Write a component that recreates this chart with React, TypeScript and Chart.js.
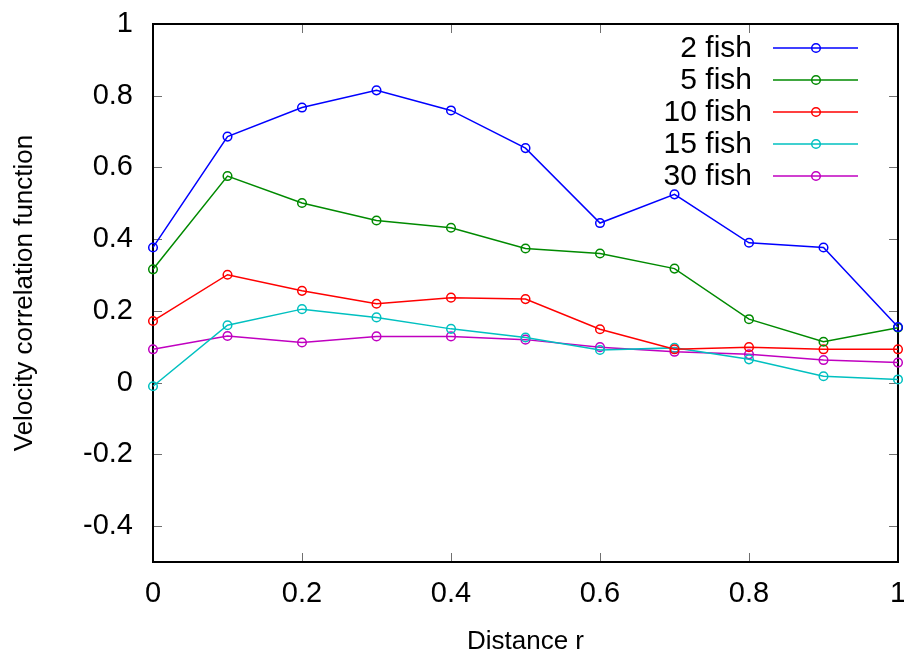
import React, { useEffect, useRef } from "react";
import { Chart, registerables } from "chart.js";

Chart.register(...registerables);

const distances = [0, 0.1, 0.2, 0.3, 0.4, 0.5, 0.6, 0.7, 0.8, 0.9, 1.0];
const fish2 = [0.377, 0.686, 0.767, 0.815, 0.759, 0.654, 0.445, 0.525, 0.39, 0.377, 0.155];
const fish5 = [0.316, 0.576, 0.501, 0.452, 0.432, 0.374, 0.36, 0.318, 0.177, 0.114, 0.153];
const fish10 = [0.172, 0.301, 0.256, 0.22, 0.237, 0.233, 0.149, 0.093, 0.099, 0.093, 0.093];
const fish15 = [-0.01, 0.16, 0.205, 0.182, 0.15, 0.126, 0.091, 0.097, 0.065, 0.018, 0.009];
const fish30 = [0.093, 0.13, 0.112, 0.129, 0.129, 0.12, 0.099, 0.086, 0.079, 0.063, 0.056];

const seriesNames = ["2 fish", "5 fish", "10 fish", "15 fish", "30 fish"];
const seriesValues = [fish2, fish5, fish10, fish15, fish30];
const seriesColors = ["#0000ff", "#008a00", "#ff0000", "#00c0c0", "#c000c0"];

const xTicks = [0, 0.2, 0.4, 0.6, 0.8, 1];
const yTicks = [-0.4, -0.2, 0, 0.2, 0.4, 0.6, 0.8, 1];

const xTitle = "Distance r";
const yTitle = "Velocity correlation function";

const FONT = "'Liberation Sans', Arial, Helvetica, sans-serif";

const fmt = (v: number) => String(Number(v.toFixed(1)));

const framePlugin = {
  id: "gnuplotFrame",
  beforeDatasetsDraw(chart: any) {
    const { ctx, chartArea } = chart;
    const { left, right, top, bottom } = chartArea;
    const xs = chart.scales.x;
    const ys = chart.scales.y;
    const tl = 9;
    ctx.save();
    ctx.strokeStyle = "#707070";
    ctx.lineWidth = 1;
    ctx.beginPath();
    xTicks.forEach((v) => {
      const px = Math.round(xs.getPixelForValue(v)) + 0.5;
      ctx.moveTo(px, bottom);
      ctx.lineTo(px, bottom - tl);
      ctx.moveTo(px, top);
      ctx.lineTo(px, top + tl);
    });
    yTicks.forEach((v) => {
      const py = Math.round(ys.getPixelForValue(v)) + 0.5;
      ctx.moveTo(left, py);
      ctx.lineTo(left + tl, py);
      ctx.moveTo(right, py);
      ctx.lineTo(right - tl, py);
    });
    ctx.stroke();
    ctx.strokeStyle = "#000000";
    ctx.lineWidth = 2;
    ctx.strokeRect(left, top, right - left, bottom - top);
    ctx.restore();
  },
};

const legendPlugin = {
  id: "gnuplotLegend",
  afterDatasetsDraw(chart: any) {
    const { ctx } = chart;
    ctx.save();
    ctx.font = `30px ${FONT}`;
    ctx.textAlign = "right";
    ctx.textBaseline = "middle";
    chart.data.datasets.forEach((ds: any, i: number) => {
      const y = 48 + 32 * i;
      ctx.fillStyle = "#000000";
      ctx.fillText(ds.label, 752, y + 1);
      ctx.strokeStyle = ds.borderColor;
      ctx.lineWidth = 1.5;
      ctx.beginPath();
      ctx.moveTo(773, y);
      ctx.lineTo(858, y);
      ctx.stroke();
      ctx.beginPath();
      ctx.arc(816, y, 4.3, 0, Math.PI * 2);
      ctx.stroke();
    });
    ctx.restore();
  },
};

export default function App() {
  const canvasRef = useRef<HTMLCanvasElement | null>(null);

  useEffect(() => {
    document.body.style.margin = "0";
    const canvas = canvasRef.current;
    if (!canvas) return;
    const chart = new Chart(canvas, {
      type: "line",
      data: {
        datasets: seriesNames.map((name, i) => ({
          label: name,
          data: distances.map((d, j) => ({ x: d, y: seriesValues[i][j] })),
          borderColor: seriesColors[i],
          backgroundColor: "transparent",
          pointBackgroundColor: "transparent",
          pointBorderColor: seriesColors[i],
          pointRadius: 4.3,
          pointBorderWidth: 1.5,
          pointStyle: "circle",
          borderWidth: 1.5,
          tension: 0,
          fill: false,
          clip: false as any,
        })),
      },
      options: {
        animation: false,
        responsive: false,
        devicePixelRatio: 1,
        events: [],
        layout: { padding: { top: 24, right: 6, left: 0, bottom: 0 } },
        plugins: {
          legend: { display: false },
          tooltip: { enabled: false },
          title: { display: false },
        },
        scales: {
          x: {
            type: "linear",
            min: 0,
            max: 1,
            grid: { display: false, drawTicks: false },
            border: { display: false },
            afterBuildTicks: (scale: any) => {
              scale.ticks = xTicks.map((v) => ({ value: v }));
            },
            afterFit: (scale: any) => {
              scale.height = 98;
              scale.paddingLeft = 0;
              scale.paddingRight = 0;
            },
            ticks: {
              color: "#000000",
              font: { family: FONT, size: 29 },
              padding: 15,
              maxRotation: 0,
              autoSkip: false,
              callback: (v: any) => fmt(Number(v)),
            },
            title: {
              display: true,
              text: xTitle,
              color: "#000000",
              font: { family: FONT, size: 26 },
              padding: { top: 0, bottom: 3 },
            },
          },
          y: {
            type: "linear",
            min: -0.5,
            max: 1,
            grid: { display: false, drawTicks: false },
            border: { display: false },
            afterBuildTicks: (scale: any) => {
              scale.ticks = yTicks.map((v) => ({ value: v }));
            },
            afterFit: (scale: any) => {
              scale.width = 153;
              scale.paddingTop = 0;
              scale.paddingBottom = 0;
            },
            ticks: {
              color: "#000000",
              font: { family: FONT, size: 29 },
              padding: 20,
              autoSkip: false,
              callback: (v: any) => fmt(Number(v)),
            },
            title: {
              display: true,
              text: yTitle,
              color: "#000000",
              font: { family: FONT, size: 26 },
              padding: { top: 9, bottom: 0 },
            },
          },
        },
      },
      plugins: [framePlugin, legendPlugin],
    } as any);
    return () => chart.destroy();
  }, []);

  return (
    <div style={{ position: "fixed", left: 0, top: 0, width: 904, height: 660, background: "#ffffff" }}>
      <canvas ref={canvasRef} width={904} height={660} style={{ width: 904, height: 660, display: "block" }} />
    </div>
  );
}
